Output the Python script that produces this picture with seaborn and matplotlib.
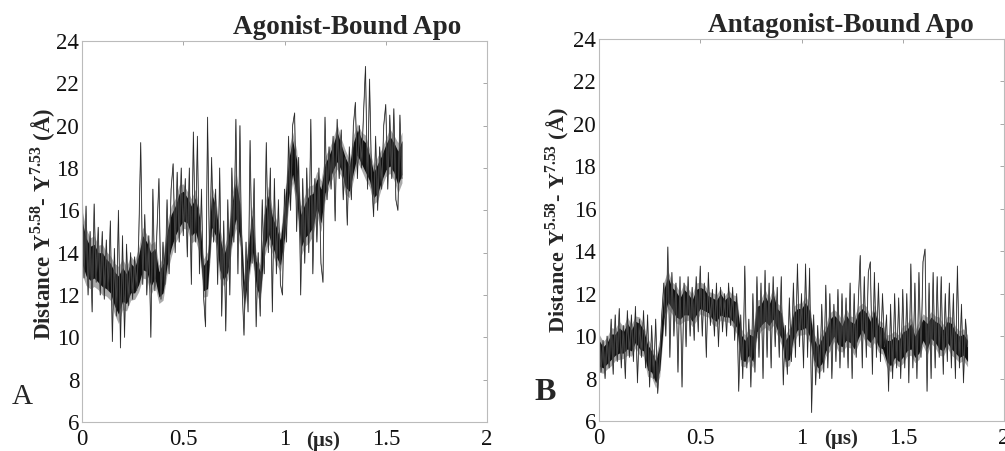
import matplotlib
matplotlib.use("Agg")
import numpy as np
import pandas as pd
import matplotlib.pyplot as plt
import seaborn as sns

# ---- data (time in microseconds, distance in Angstrom) ----
# Agonist-bound trace, one value every 0.01 us from 0 to 1.58
agonist_trace = [
    17.5, 12.8, 16.2, 12.0, 15.0, 11.2, 16.3, 12.6, 15.2, 12.0,
    15.0, 11.8, 14.6, 12.2, 15.5, 9.8, 14.2, 11.0, 16.0, 9.5,
    14.8, 10.0, 14.4, 11.5, 14.0, 11.8, 13.8, 12.2, 14.6, 19.2,
    12.5, 15.8, 12.0, 14.8, 10.0, 17.0, 12.2, 15.0, 17.5, 11.8,
    14.5, 12.5, 16.5, 13.0, 17.0, 18.2, 14.0, 17.8, 14.5, 18.0,
    14.8, 17.5, 13.8, 18.0, 12.5, 19.7, 14.5, 19.5, 13.0, 17.0,
    12.0, 10.5, 20.4, 13.5, 18.5, 14.5, 17.0, 12.5, 18.0, 11.0,
    15.5, 10.3, 16.5, 12.0, 18.0, 14.5, 20.3, 13.0, 20.0, 12.5,
    10.1, 14.5, 11.2, 19.3, 13.5, 17.5, 10.5, 14.0, 11.0, 16.5,
    13.0, 19.2, 14.0, 18.0, 11.2, 17.5, 13.0, 16.5, 12.5, 12.0,
    17.0, 14.5, 19.5, 16.0, 20.0, 20.6, 15.0, 18.5, 12.0, 17.5,
    13.5, 18.0, 14.0, 20.3, 13.0, 17.5, 14.5, 18.0, 13.5, 12.6,
    20.4, 16.5, 19.0, 17.0, 19.5, 15.5, 20.3, 17.5, 19.8, 16.5,
    18.5, 15.3, 19.0, 16.5, 20.0, 21.1, 17.5, 20.0, 18.0, 20.5,
    22.8, 17.0, 22.2, 17.5, 15.7, 19.5, 16.0, 19.0, 17.0, 20.0,
    21.0, 17.0, 20.5, 17.5, 20.8, 16.5, 16.0, 20.5, 17.5,
]
# dark core of the agonist trace: centre and half thickness every 0.02 us
agonist_core_mid = [
    14.5, 13.8, 13.5, 13.6, 13.3, 13.2, 13.0, 12.8, 12.3, 12.0,
    12.5, 12.3, 12.8, 12.7, 13.2, 14.0, 13.8, 13.2, 13.5, 12.5,
    12.8, 14.2, 15.0, 15.5, 16.0, 16.2, 16.0, 15.5, 15.8, 15.0,
    12.8, 13.0, 16.0, 15.5, 14.0, 13.3, 13.8, 15.5, 16.5, 15.5,
    12.0, 13.5, 15.0, 13.0, 12.5, 15.0, 15.8, 15.0, 14.5, 14.0,
    15.5, 17.5, 18.5, 17.5, 15.0, 15.5, 15.8, 16.0, 16.8, 16.2,
    17.5, 18.0, 18.5, 19.0, 18.5, 17.8, 17.5, 18.5, 19.2, 18.8,
    18.5, 18.0, 17.2, 17.5, 18.0, 18.5, 18.8, 18.5, 18.0, 18.5,
]
agonist_core_half = [
    1.0, 0.9, 0.8, 0.8, 0.7, 0.8, 0.7, 0.7, 0.8, 0.9,
    0.8, 0.7, 0.7, 0.6, 0.7, 0.8, 0.7, 0.8, 0.7, 0.6,
    0.7, 0.8, 0.8, 0.7, 0.8, 0.7, 0.6, 0.7, 0.8, 0.7,
    0.6, 0.7, 0.8, 0.7, 0.8, 0.6, 0.7, 0.8, 0.9, 0.8,
    0.6, 0.7, 0.8, 0.6, 0.6, 0.8, 0.9, 0.7, 0.7, 0.6,
    0.8, 0.9, 0.8, 0.9, 0.8, 0.8, 0.9, 0.8, 0.7, 0.8,
    0.7, 0.6, 0.6, 0.7, 0.6, 0.7, 0.6, 0.7, 0.6, 0.6,
    0.7, 0.6, 0.6, 0.7, 0.6, 0.6, 0.7, 0.7, 0.8, 0.8,
]

# Antagonist-bound trace, one value every 0.01 us from 0 to 1.82
antagonist_trace = [
    10.3, 8.3, 9.8, 8.0, 10.0, 8.5, 10.8, 8.2, 11.0, 8.8,
    11.3, 8.5, 10.5, 8.0, 11.2, 9.0, 11.0, 8.8, 11.4, 7.8,
    10.8, 9.0, 11.2, 8.5, 11.0, 7.6, 10.5, 8.0, 10.8, 7.3,
    9.0, 11.0, 12.5, 10.0, 14.2, 9.0, 13.0, 10.0, 12.5, 8.3,
    12.8, 7.6, 12.5, 9.5, 12.8, 10.0, 12.3, 9.8, 12.8, 10.2,
    13.3, 10.0, 12.5, 9.0, 13.0, 10.5, 12.2, 10.0, 12.5, 9.5,
    12.3, 10.2, 12.0, 10.0, 12.5, 10.5, 12.3, 9.8, 12.0, 7.4,
    11.0, 8.0, 13.3, 8.5, 10.8, 7.6, 12.0, 8.3, 12.8, 9.0,
    12.5, 8.0, 13.1, 9.0, 12.5, 8.5, 12.8, 9.5, 12.3, 9.0,
    12.8, 7.7, 10.5, 8.2, 11.8, 8.8, 12.5, 9.0, 13.4, 9.5,
    12.0, 8.5, 13.4, 9.0, 13.2, 6.4, 11.0, 7.7, 10.5, 8.0,
    11.5, 8.3, 12.4, 8.5, 12.0, 8.0, 11.5, 8.8, 12.2, 8.5,
    12.0, 9.0, 11.8, 8.5, 12.5, 8.0, 12.0, 9.0, 11.5, 13.8,
    8.5, 12.8, 9.0, 13.0, 13.5, 8.2, 13.0, 9.0, 12.5, 8.8,
    12.0, 9.5, 11.0, 7.4, 11.5, 8.0, 12.0, 8.5, 11.8, 8.0,
    12.2, 8.5, 12.0, 7.8, 13.4, 8.5, 12.5, 8.0, 13.0, 9.0,
    13.5, 14.1, 7.4, 12.5, 8.0, 13.0, 8.5, 12.8, 9.0, 12.8,
    8.2, 12.0, 8.8, 12.5, 8.5, 12.0, 8.0, 13.3, 8.5, 11.5,
    7.8, 10.8, 9.5,
]
antagonist_core_mid = [
    9.2, 9.0, 9.2, 9.5, 9.6, 9.8, 9.7, 10.0, 9.8, 10.2,
    10.0, 9.8, 9.0, 8.8, 8.3, 9.0, 11.5, 12.2, 11.8, 11.5,
    11.3, 11.6, 11.5, 11.2, 11.6, 11.8, 11.7, 11.5, 11.3, 11.2,
    11.5, 11.3, 11.4, 11.2, 11.0, 9.5, 9.3, 9.6, 9.4, 10.8,
    11.0, 11.3, 11.0, 11.4, 10.8, 10.5, 9.3, 9.5, 10.5, 10.8,
    10.8, 11.0, 10.6, 9.4, 9.0, 9.3, 9.8, 10.2, 10.5, 10.2,
    10.0, 10.4, 10.2, 10.0, 10.5, 10.8, 10.5, 10.2, 10.6, 10.0,
    9.9, 9.3, 9.2, 9.5, 9.3, 9.6, 9.8, 10.0, 9.5, 9.8,
    10.3, 10.0, 10.4, 10.2, 10.0, 9.8, 10.2, 10.0, 9.7, 9.5,
    9.6, 9.3,
]
antagonist_core_half = [
    0.6, 0.5, 0.5, 0.6, 0.5, 0.6, 0.5, 0.6, 0.5, 0.5,
    0.6, 0.5, 0.6, 0.5, 0.5, 0.6, 0.7, 0.6, 0.5, 0.6,
    0.5, 0.6, 0.5, 0.5, 0.6, 0.5, 0.5, 0.4, 0.5, 0.5,
    0.5, 0.4, 0.5, 0.5, 0.6, 0.6, 0.5, 0.5, 0.6, 0.6,
    0.5, 0.6, 0.5, 0.6, 0.5, 0.6, 0.5, 0.6, 0.6, 0.5,
    0.5, 0.6, 0.6, 0.5, 0.5, 0.6, 0.5, 0.6, 0.5, 0.6,
    0.5, 0.6, 0.5, 0.6, 0.6, 0.5, 0.6, 0.5, 0.6, 0.5,
    0.5, 0.5, 0.6, 0.5, 0.5, 0.6, 0.5, 0.6, 0.5, 0.6,
    0.5, 0.6, 0.5, 0.5, 0.6, 0.5, 0.5, 0.6, 0.5, 0.5,
    0.5, 0.5,
]

x_ticks = [0, 0.5, 1, 1.5, 2]
x_ticklabels = ["0", "0.5", "1", "1.5", "2"]
y_ticks = [6, 8, 10, 12, 14, 16, 18, 20, 22, 24]
titles = ["Agonist-Bound Apo", "Antagonist-Bound Apo"]
panel_letters = ["A", "B"]

SAMPLE_STEP = 0.01  # us between trace values
CORE_STEP = 0.02    # us between core values

# ---- style ----
sns.set_style("white")
plt.rcParams["font.family"] = ["Liberation Serif", "DejaVu Serif"]
plt.rcParams["mathtext.fontset"] = "custom"
plt.rcParams["mathtext.rm"] = "Liberation Serif"
plt.rcParams["mathtext.bf"] = "Liberation Serif:bold"

fig = plt.figure(figsize=(10.05, 4.51), dpi=100)
ax_a = fig.add_axes([82 / 1005, 1 - 422 / 451, 405 / 1005, 381 / 451])
ax_b = fig.add_axes([599 / 1005, 1 - 421 / 451, 405 / 1005, 382 / 451])

panels = [
    (ax_a, agonist_trace, agonist_core_mid, agonist_core_half),
    (ax_b, antagonist_trace, antagonist_core_mid, antagonist_core_half),
]

for ax, trace, core_mid, core_half in panels:
    df = pd.DataFrame({"t": np.arange(len(trace)) * SAMPLE_STEP, "d": trace})
    sns.lineplot(data=df, x="t", y="d", ax=ax, color="#707070", linewidth=0.7,
                 estimator=None, sort=False)
    core = pd.DataFrame({"t": np.arange(len(core_mid)) * CORE_STEP,
                         "mid": core_mid, "half": core_half})
    # soft halo, then the dense black core
    ax.fill_between(core["t"], core["mid"] - 1.5 * core["half"],
                    core["mid"] + 1.5 * core["half"], color="#444444",
                    alpha=0.45, linewidth=0)
    ax.fill_between(core["t"], core["mid"] - core["half"],
                    core["mid"] + core["half"], color="black", alpha=0.9,
                    linewidth=0)
    sns.lineplot(data=df, x="t", y="d", ax=ax, color="#1a1a1a", linewidth=0.35,
                 estimator=None, sort=False)
    ax.set_xlim(0, 2)
    ax.set_ylim(6, 24)
    ax.set_xticks(x_ticks)
    ax.set_xticklabels(x_ticklabels)
    ax.set_yticks(y_ticks)
    ax.set_xlabel("")
    ax.set_ylabel("")
    ax.tick_params(direction="in", length=3, width=0.6, color="#999999",
                   top=True, right=True, labelsize=16.5, labelcolor="#111111")
    ax.tick_params(axis="x", pad=5)
    ax.tick_params(axis="y", pad=2)
    for s in ax.spines.values():
        s.set_color("#bbbbbb")
        s.set_linewidth(0.8)

ylab = r"Distance Y$^{\mathbf{5.58}}$- Y$^{\mathbf{7.53}}$ (Å)"
fig.text(43 / 1005, 1 - 224 / 451, ylab, rotation=90, ha="center", va="center",
         fontsize=16.5, fontweight="bold")
fig.text(558 / 1005, 1 - 220 / 451, ylab, rotation=90, ha="center", va="center",
         fontsize=16, fontweight="bold")

fig.text(347 / 1005, 1 - 27 / 451, titles[0], ha="center", va="center",
         fontsize=19.5, fontweight="bold")
fig.text(841 / 1005, 1 - 25 / 451, titles[1], ha="center", va="center",
         fontsize=19.5, fontweight="bold")

fig.text(323 / 1005, 1 - 441 / 451, "(µs)", ha="center", va="center",
         fontsize=15, fontweight="bold")
fig.text(841 / 1005, 1 - 439 / 451, "(µs)", ha="center", va="center",
         fontsize=15, fontweight="bold")

fig.text(22 / 1005, 1 - 397 / 451, panel_letters[0], ha="center", va="center",
         fontsize=21)
fig.text(545 / 1005, 1 - 393 / 451, panel_letters[1], ha="center", va="center",
         fontsize=23, fontweight="bold")

fig.savefig("out.png", dpi=100)
